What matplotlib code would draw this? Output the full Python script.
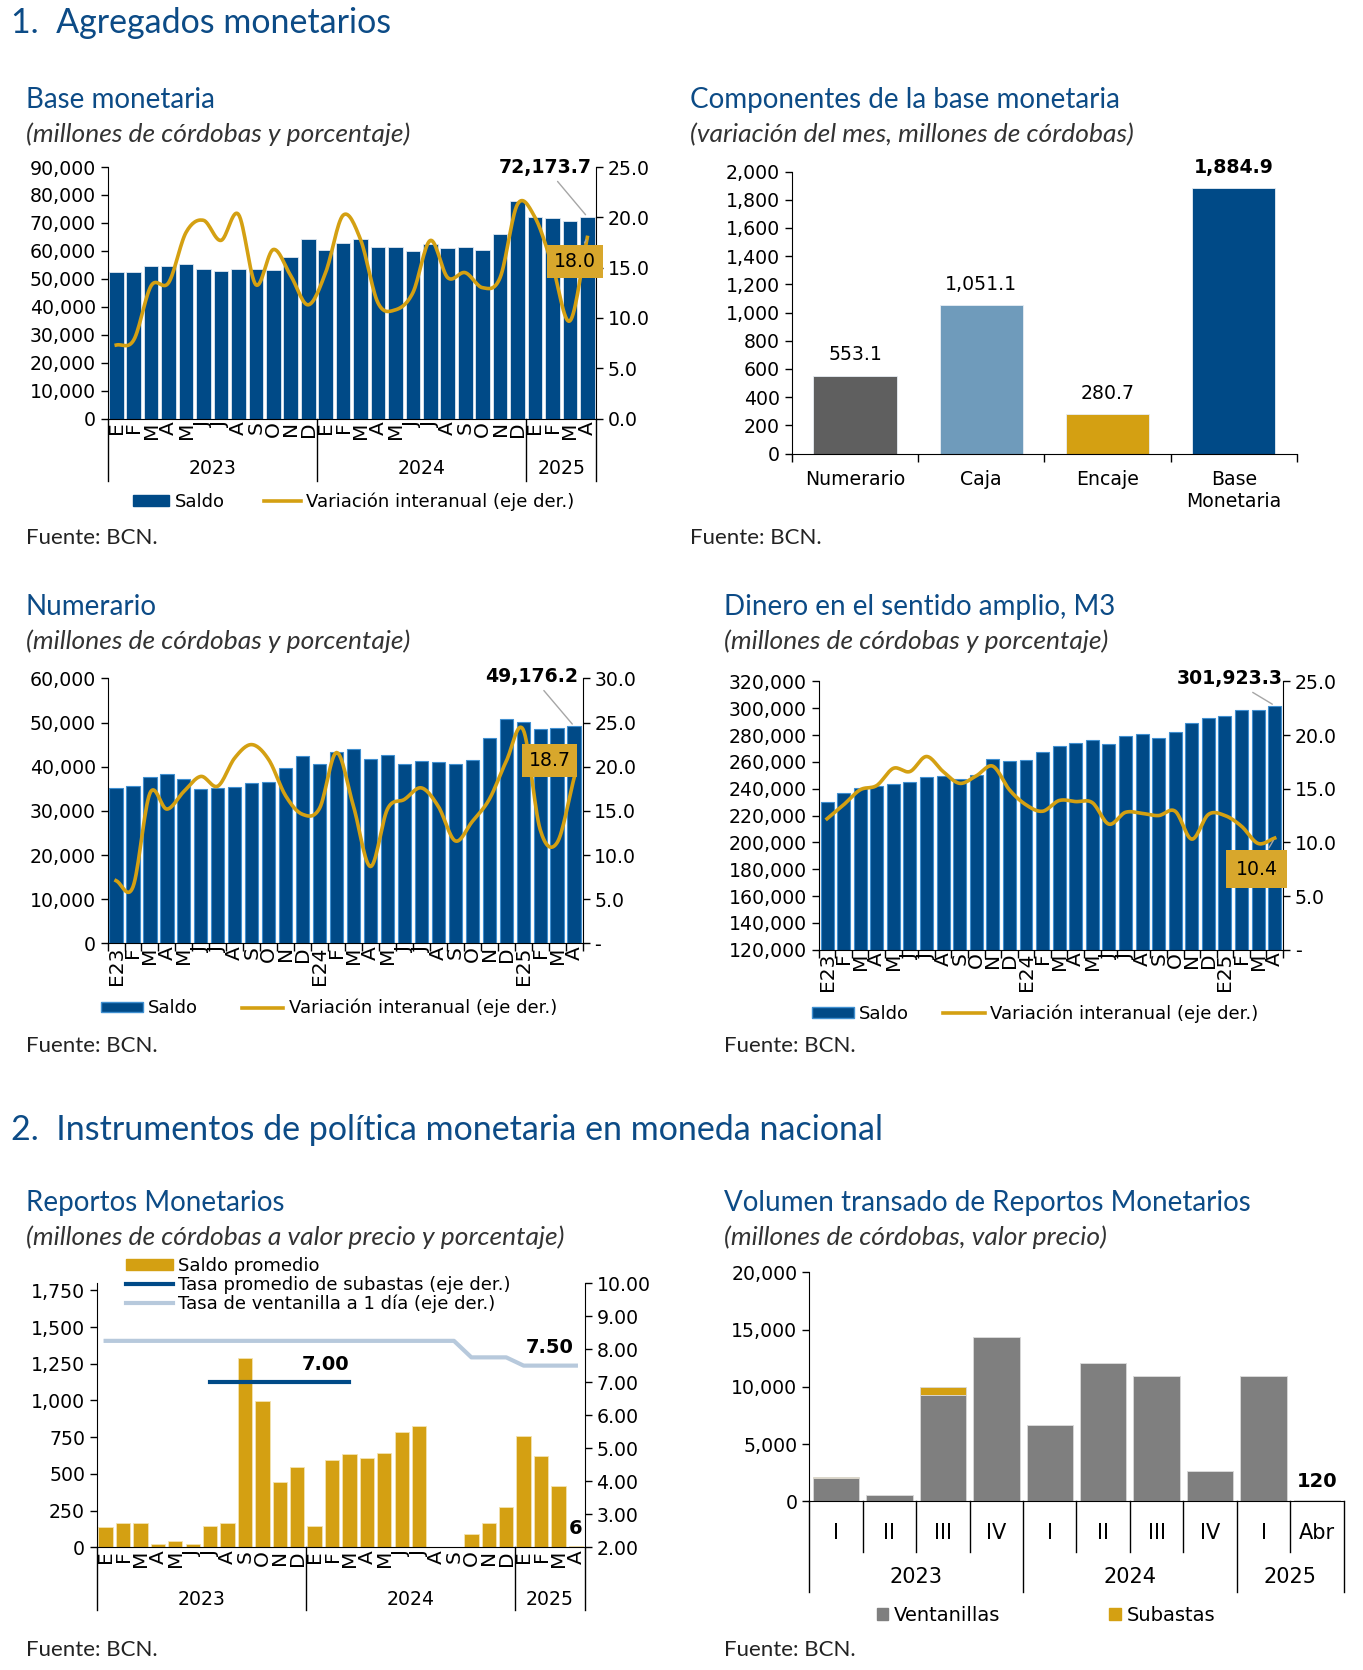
import matplotlib
matplotlib.use("Agg")
import matplotlib.pyplot as plt
from matplotlib.patches import Patch
from matplotlib.lines import Line2D
from matplotlib.ticker import FuncFormatter
import numpy as np

plt.rcParams['font.family'] = ['DejaVu Sans']

NAVY = "#004A87"
GOLD = "#D4A012"
BOXGOLD = "#D8A72C"
TITLE = "#0C4B86"
GRAY = "#7F7F7F"
LIGHT = "#B7C9DC"

# ---- datos ----
meses = ["E", "F", "M", "A", "M", "J", "J", "A", "S", "O", "N", "D"]
meses_28 = meses + meses + meses[:4]
meses_e = ["E23"] + meses[1:] + ["E24"] + meses[1:] + ["E25", "F", "M", "A"]
anios = ["2023", "2024", "2025"]

base_saldo = [52600, 52300, 54500, 54700, 55400, 53500, 52900, 53500, 53500, 53200,
              57800, 64300, 60400, 62800, 64300, 61200, 61200, 60000, 62500, 61000,
              61200, 60400, 65900, 77900, 72200, 71600, 70600, 72173.7]
base_var = [7.3, 7.8, 13.2, 13.5, 18.5, 19.7, 17.7, 20.3, 13.3, 16.8, 14.2, 11.3,
            14.5, 20.2, 17.8, 11.5, 10.8, 12.5, 17.7, 14.0, 14.5, 13.0, 14.0, 21.3,
            20.0, 15.2, 9.7, 18.0]

comp_labels = ["Numerario", "Caja", "Encaje", "Base\nMonetaria"]
comp_vals = [553.1, 1051.1, 280.7, 1884.9]
comp_colors = ["#5F5F5F", "#6F9BBB", "#D4A012", "#004A87"]

num_saldo = [35200, 35600, 37700, 38300, 37300, 35000, 35200, 35400, 36400, 36500,
             39700, 42400, 40500, 43400, 44000, 41700, 42700, 40600, 41200, 41000,
             40600, 41600, 46400, 50800, 50200, 48600, 48800, 49176.2]
num_var = [7.1, 6.4, 17.0, 15.2, 17.2, 18.9, 17.8, 21.0, 22.5, 20.8, 16.7, 14.6,
           15.3, 21.6, 15.5, 8.7, 15.2, 16.3, 17.6, 15.5, 11.6, 13.8, 16.3, 20.6,
           24.2, 12.9, 11.4, 18.7]

m3_saldo = [230000, 237000, 240200, 241700, 243700, 245200, 248600, 249400, 247400, 250400,
            262300, 260500, 261300, 267700, 272200, 273900, 276600, 273400, 279100, 280600,
            277900, 282300, 288800, 292500, 294000, 298900, 298900, 301923.3]
m3_var = [12.2, 13.5, 14.9, 15.3, 16.9, 16.6, 18.0, 16.6, 15.5, 16.2, 17.1, 14.9,
          13.5, 12.9, 13.9, 13.8, 13.7, 11.7, 12.8, 12.7, 12.5, 12.9, 10.3, 12.6,
          12.5, 11.5, 9.9, 10.4]

rep_saldo = [137, 168, 168, 25, 41, 25, 148, 164, 1290, 994, 446, 548,
             148, 592, 637, 608, 642, 785, 826, 0, 0, 89, 168, 271,
             760, 624, 414, 6]
rep_subasta = [None] * 6 + [7.00] * 9 + [None] * 13
rep_ventanilla = [8.25] * 21 + [7.75, 7.75, 7.75] + [7.50] * 4

vol_trim = ["I", "II", "III", "IV", "I", "II", "III", "IV", "I", "Abr"]
vol_vent = [2018, 556, 9269, 14386, 6667, 12076, 10906, 2690, 10906, 120]
vol_sub = [150, 0, 760, 0, 0, 0, 0, 0, 0, 0]

miles = FuncFormatter(lambda v, p: f"{v:,.0f}")
uno = FuncFormatter(lambda v, p: f"{v:.1f}")
guion = FuncFormatter(lambda v, p: "-" if abs(v) < 1e-9 else f"{v:.1f}")
dos = FuncFormatter(lambda v, p: f"{v:.2f}")

FS = 13.6
FSM = 14.5
TFONT = "Lato"


def suave(x, y, n=16):
    # curva suavizada tipo Excel (Catmull-Rom) que pasa por los puntos
    x = np.asarray(x, float)
    y = np.asarray(y, float)
    py = np.concatenate([[2 * y[0] - y[1]], y, [2 * y[-1] - y[-2]]])
    t = np.linspace(0, 1, n, endpoint=False)
    xs, ys = [], []
    for i in range(1, len(py) - 2):
        p0, p1, p2, p3 = py[i - 1], py[i], py[i + 1], py[i + 2]
        ys.append(0.5 * (2 * p1 + (-p0 + p2) * t + (2 * p0 - 5 * p1 + 4 * p2 - p3) * t ** 2
                         + (-p0 + 3 * p1 - 3 * p2 + p3) * t ** 3))
        xs.append(x[i - 1] + (x[i] - x[i - 1]) * t)
    xs.append([x[-1]])
    ys.append([y[-1]])
    return np.concatenate(xs), np.concatenate(ys)


def titulo(x, y, txt, sub):
    fig.text(x, y, txt, fontsize=20, color=TITLE, family=TFONT, va="center")
    fig.text(x, y - 0.0205, sub, fontsize=19, style="italic", color="#333333",
             family=TFONT, va="center")


def fuente(x, y):
    fig.text(x, y, "Fuente: BCN.", fontsize=16, color="#222222", family=TFONT, va="center")


def limpiar(ax, ax2=None):
    ax.spines["top"].set_visible(False)
    ax.tick_params(labelsize=FS, width=1, length=5)
    if ax2 is not None:
        ax.spines["right"].set_visible(False)
        ax2.spines["top"].set_visible(False)
        ax2.spines["left"].set_visible(False)
        ax2.spines["bottom"].set_visible(False)
        ax2.tick_params(labelsize=FS, width=1, length=5)
    else:
        ax.spines["right"].set_visible(False)


def eje_meses(ax, etiquetas, con_anios, ysep, yanio):
    n = len(etiquetas)
    ax.set_xlim(-0.5, n - 0.5)
    ax.set_xticks(range(n))
    ax.set_xticklabels(etiquetas, rotation=90, fontsize=FSM)
    ax.tick_params(axis="x", which="major", length=0, pad=2, labelsize=FSM)
    trans = ax.get_xaxis_transform()
    if con_anios:
        bordes = [-0.5, 11.5, 23.5, n - 0.5]
        for b in bordes:
            ax.plot([b, b], [0, ysep], transform=trans, color="black", lw=1, clip_on=False)
        for a, b0, b1 in zip(anios, bordes[:-1], bordes[1:]):
            ax.text((b0 + b1) / 2, yanio, a, transform=trans, ha="center", va="center", fontsize=FS)
    else:
        ax.set_xticks(np.arange(-0.5, n), minor=True)
        ax.tick_params(axis="x", which="minor", length=6, width=1)


fig = plt.figure(figsize=(13.63, 16.70), dpi=100)

fig.text(0.008, 0.986, "1.  Agregados monetarios", fontsize=24.5, color=TITLE, family=TFONT, va="center")
fig.text(0.008, 0.3235, "2.  Instrumentos de política monetaria en moneda nacional", fontsize=24.5,
         color=TITLE, family=TFONT, va="center")

# ---- Base monetaria ----
titulo(0.0188, 0.940, "Base monetaria", "(millones de córdobas y porcentaje)")
x = np.arange(28)
ax = fig.add_axes([0.0789, 0.7494, 0.3584, 0.1506])
ax.bar(x, base_saldo, width=0.84, color=NAVY, edgecolor="#dfe8f1", lw=0.6)
ax.set_ylim(0, 90000)
ax.set_yticks(range(0, 90001, 10000))
ax.yaxis.set_major_formatter(miles)
ax2 = ax.twinx()
ax2.plot(*suave(x, base_var), color=GOLD, lw=2.6)
ax2.set_ylim(0, 25)
ax2.set_yticks(range(0, 26, 5))
ax2.yaxis.set_major_formatter(uno)
limpiar(ax, ax2)
eje_meses(ax, meses_28, True, -0.25, -0.20)
ax.annotate("72,173.7", xy=(27, base_saldo[-1]), xytext=(24.6, 90000), ha="center", va="center",
            fontsize=FS, fontweight="bold", annotation_clip=False,
            arrowprops=dict(arrowstyle="-", color="#a6a6a6", lw=1))
ax2.annotate("18.0", xy=(27, base_var[-1]), xytext=(26.3, 15.6), ha="center", va="center",
             fontsize=FS, zorder=5, annotation_clip=False,
             bbox=dict(boxstyle="square,pad=0.35", fc=BOXGOLD, ec="none"),
             arrowprops=dict(arrowstyle="-", color="#a6a6a6", lw=1))
fig.legend(handles=[Patch(color=NAVY, label="Saldo"),
                    Line2D([], [], color=GOLD, lw=2.6, label="Variación interanual (eje der.)")],
           loc="center", bbox_to_anchor=(0.2595, 0.6997), ncol=2, frameon=False, fontsize=13,
           handlelength=2.0, handleheight=0.55, columnspacing=2.2, handletextpad=0.3)
fuente(0.0188, 0.678)

# ---- Componentes de la base monetaria ----
titulo(0.5063, 0.940, "Componentes de la base monetaria", "(variación del mes, millones de córdobas)")
ax = fig.add_axes([0.581, 0.7284, 0.3705, 0.1689])
xc = np.arange(len(comp_vals))
ax.bar(xc, comp_vals, width=0.66, color=comp_colors, edgecolor="#e8eef4", lw=0.6)
for i, v in enumerate(comp_vals):
    ax.annotate(f"{v:,.1f}", xy=(i, v), xytext=(0, 8), textcoords="offset points", ha="center",
                va="bottom", fontsize=FS, fontweight="bold" if i == 3 else "normal")
ax.set_ylim(0, 2000)
ax.set_yticks(range(0, 2001, 200))
ax.yaxis.set_major_formatter(miles)
ax.set_xlim(-0.5, 3.5)
ax.set_xticks(xc)
ax.set_xticklabels(comp_labels, fontsize=FS, va="top", linespacing=1.2)
limpiar(ax)
ax.tick_params(axis="x", which="major", length=0, pad=12)
ax.set_xticks(np.arange(-0.5, 4), minor=True)
ax.tick_params(axis="x", which="minor", length=6, width=1)
fuente(0.5063, 0.678)

# ---- Numerario ----
titulo(0.0188, 0.6365, "Numerario", "(millones de córdobas y porcentaje)")
ax = fig.add_axes([0.0789, 0.4351, 0.3485, 0.1587])
ax.bar(x, num_saldo, width=0.78, color=NAVY, edgecolor="#3f8fd0", lw=0.8)
ax.set_ylim(0, 60000)
ax.set_yticks(range(0, 60001, 10000))
ax.yaxis.set_major_formatter(miles)
ax2 = ax.twinx()
ax2.plot(*suave(x, num_var), color=GOLD, lw=2.6)
ax2.set_ylim(0, 30)
ax2.set_yticks(range(0, 31, 5))
ax2.yaxis.set_major_formatter(guion)
limpiar(ax, ax2)
eje_meses(ax, meses_e, False, 0, 0)
ax.annotate("49,176.2", xy=(27, num_saldo[-1]), xytext=(24.5, 60500), ha="center", va="center",
            fontsize=FS, fontweight="bold", annotation_clip=False,
            arrowprops=dict(arrowstyle="-", color="#a6a6a6", lw=1))
ax2.annotate("18.7", xy=(27, num_var[-1]), xytext=(25.55, 20.7), ha="center", va="center",
             fontsize=FS, zorder=5, annotation_clip=False,
             bbox=dict(boxstyle="square,pad=0.35", fc=BOXGOLD, ec="none"))
fig.legend(handles=[Patch(fc=NAVY, ec="#3f8fd0", label="Saldo"),
                    Line2D([], [], color=GOLD, lw=2.6, label="Variación interanual (eje der.)")],
           loc="center", bbox_to_anchor=(0.2415, 0.3963), ncol=2, frameon=False, fontsize=13,
           handlelength=2.3, handleheight=0.55, columnspacing=2.4, handletextpad=0.3)
fuente(0.0188, 0.3738)

# ---- M3 ----
titulo(0.5312, 0.6365, "Dinero en el sentido amplio, M3", "(millones de córdobas y porcentaje)")
ax = fig.add_axes([0.6007, 0.4313, 0.3406, 0.1607])
ax.bar(x, m3_saldo, width=0.78, color=NAVY, edgecolor="#3f8fd0", lw=0.8)
ax.set_ylim(120000, 320000)
ax.set_yticks(range(120000, 320001, 20000))
ax.yaxis.set_major_formatter(miles)
ax2 = ax.twinx()
ax2.plot(*suave(x, m3_var), color=GOLD, lw=2.6)
ax2.set_ylim(0, 25)
ax2.set_yticks(range(0, 26, 5))
ax2.yaxis.set_major_formatter(guion)
limpiar(ax, ax2)
eje_meses(ax, meses_e, False, 0, 0)
ax.annotate("301,923.3", xy=(27, m3_saldo[-1]), xytext=(24.3, 322000), ha="center", va="center",
            fontsize=FS, fontweight="bold", annotation_clip=False,
            arrowprops=dict(arrowstyle="-", color="#a6a6a6", lw=1))
ax2.annotate("10.4", xy=(27, m3_var[-1]), xytext=(25.9, 7.5), ha="center", va="center",
             fontsize=FS, zorder=5, annotation_clip=False,
             bbox=dict(boxstyle="square,pad=0.5", fc=BOXGOLD, ec="none"),
             arrowprops=dict(arrowstyle="-", color="#a6a6a6", lw=1))
fig.legend(handles=[Patch(fc=NAVY, ec="#3f8fd0", label="Saldo"),
                    Line2D([], [], color=GOLD, lw=2.6, label="Variación interanual (eje der.)")],
           loc="center", bbox_to_anchor=(0.7595, 0.393), ncol=2, frameon=False, fontsize=13,
           handlelength=2.3, handleheight=0.55, columnspacing=1.9, handletextpad=0.3)
fuente(0.5312, 0.3738)

# ---- Reportos Monetarios ----
titulo(0.0188, 0.2795, "Reportos Monetarios", "(millones de córdobas a valor precio y porcentaje)")
ax = fig.add_axes([0.0711, 0.0735, 0.3578, 0.1582])
ax.bar(x, rep_saldo, width=0.82, color=GOLD, edgecolor="#f3e3b0", lw=0.6)
ax.set_ylim(0, 1800)
ax.set_yticks(range(0, 1751, 250))
ax.yaxis.set_major_formatter(miles)
ax2 = ax.twinx()
ax2.plot(x, rep_ventanilla, color=LIGHT, lw=3)
sub = np.array([np.nan if v is None else v for v in rep_subasta])
ax2.plot(x, sub, color=NAVY, lw=3)
ax2.set_ylim(2, 10)
ax2.set_yticks(range(2, 11))
ax2.yaxis.set_major_formatter(dos)
limpiar(ax, ax2)
eje_meses(ax, meses_28, True, -0.238, -0.198)
ax2.text(12.6, 7.52, "7.00", ha="center", va="center", fontsize=14, fontweight="bold")
ax2.text(25.5, 8.06, "7.50", ha="center", va="center", fontsize=14, fontweight="bold")
ax.text(27, 125, "6", ha="center", va="center", fontsize=14, fontweight="bold")
fig.legend(handles=[Patch(color=GOLD, label="Saldo promedio"),
                    Line2D([], [], color=NAVY, lw=3, label="Tasa promedio de subastas (eje der.)"),
                    Line2D([], [], color=LIGHT, lw=3, label="Tasa de ventanilla a 1 día (eje der.)")],
           loc="upper left", bbox_to_anchor=(0.0925, 0.2475), frameon=False, fontsize=13,
           handlelength=2.6, handleheight=0.55, handletextpad=0.3, labelspacing=0.05,
           borderpad=0, borderaxespad=0)
fuente(0.0188, 0.0117)

# ---- Volumen transado ----
titulo(0.5312, 0.2795, "Volumen transado de Reportos Monetarios", "(millones de córdobas, valor precio)")
ax = fig.add_axes([0.5937, 0.1010, 0.3922, 0.1371])
xv = np.arange(len(vol_trim))
ax.bar(xv, vol_vent, width=0.87, color=GRAY, edgecolor="#d9d9d9", lw=0.6)
ax.bar(xv, vol_sub, bottom=vol_vent, width=0.87, color=GOLD, edgecolor="#d9d9d9", lw=0.6)
ax.text(9, vol_vent[-1] + 1650, "120", ha="center", va="center", fontsize=14, fontweight="bold")
ax.set_ylim(0, 20000)
ax.set_yticks(range(0, 20001, 5000))
ax.yaxis.set_major_formatter(miles)
ax.set_xlim(-0.5, 9.5)
ax.set_xticks(xv)
ax.set_xticklabels(vol_trim, fontsize=FS)
limpiar(ax)
ax.tick_params(axis="x", length=0, pad=0)
for lab in ax.get_xticklabels():
    lab.set_visible(False)
trans = ax.get_xaxis_transform()
for i, q in enumerate(vol_trim):
    ax.text(i, -0.14, q, transform=trans, ha="center", va="center", fontsize=15)
for b in np.arange(-0.5, 10):
    largo = -0.395 if b in (-0.5, 3.5, 7.5, 9.5) else -0.223
    ax.plot([b, b], [0, largo], transform=trans, color="black", lw=1, clip_on=False)
for a, b0, b1 in zip(anios, [-0.5, 3.5, 7.5], [3.5, 7.5, 9.5]):
    ax.text((b0 + b1) / 2, -0.33, a, transform=trans, ha="center", va="center", fontsize=15)
fig.legend(handles=[Patch(color=GRAY, label="Ventanillas"), Patch(color=GOLD, label="Subastas")],
           loc="center", bbox_to_anchor=(0.7675, 0.0328), ncol=2, frameon=False, fontsize=14,
           handlelength=0.6, handleheight=0.6, columnspacing=5.6, handletextpad=0.3)
fuente(0.5312, 0.0117)

fig.savefig("out.png", dpi=100)
